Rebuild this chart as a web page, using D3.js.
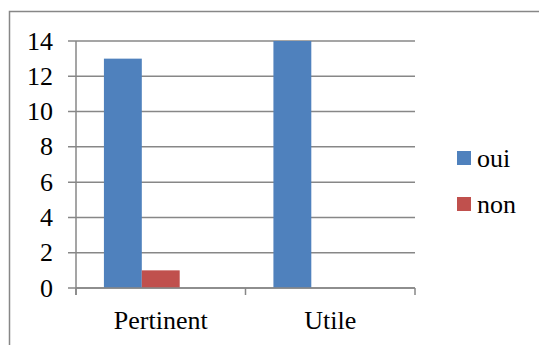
<!DOCTYPE html>
<html><head><meta charset="utf-8">
<script src="https://cdn.jsdelivr.net/npm/d3@7"></script>
<style>html,body{margin:0;padding:0;background:#fff;}svg{display:block;}</style>
</head><body>
<script>
const categories = ["Pertinent", "Utile"];
const seriesNames = ["oui", "non"];
const ouiValues = [13, 14];
const nonValues = [1, 0];
const yTicks = [0, 2, 4, 6, 8, 10, 12, 14];
const colors = ["#4F81BD", "#C0504D"];

(function () {
const W = 539, H = 345;
const svg = d3.select("body").append("svg").attr("width", W).attr("height", H)
  .attr("font-family", "Liberation Serif").style("font-family", "Liberation Serif");
function styleText(sel) {
  sel.attr("font-family", "Liberation Serif")
     .attr("font-size", 26)
     .style("font", "26px Liberation Serif")
     .attr("fill", "#000");
}

// outer frame
svg.append("rect").attr("x", 9.5).attr("y", 11.5).attr("width", 560).attr("height", 360)
  .attr("fill", "none").attr("stroke", "#878787").attr("stroke-width", 1.5);

const pl = 76, pr = 415, pt = 41, pb = 288;
const y = d3.scaleLinear().domain([0, 14]).range([pb, pt]);
const x0 = d3.scaleBand().domain(categories).range([pl, pr]).paddingInner(0).paddingOuter(0);
const bw = x0.bandwidth();
const barW = bw * 38 / 170;
const gap = bw * 28 / 170;
const x1 = d3.scaleBand().domain(seriesNames).range([gap, gap + 2 * barW]);

const gridColor = "#878787";
// gridlines
svg.append("g").selectAll("line").data(yTicks).join("line")
  .attr("x1", pl - 8).attr("x2", pr)
  .attr("y1", d => y(d)).attr("y2", d => y(d))
  .attr("stroke", gridColor).attr("stroke-width", 1.5);

// bars
const data = categories.map((c, i) => ({ cat: c, vals: [ouiValues[i], nonValues[i]] }));
const groups = svg.append("g").selectAll("g").data(data).join("g")
  .attr("transform", d => `translate(${x0(d.cat)},0)`);
groups.selectAll("rect").data(d => d.vals.map((v, j) => ({ s: seriesNames[j], v, j })))
  .join("rect")
  .attr("x", d => x1(d.s)).attr("width", x1.bandwidth())
  .attr("y", d => y(d.v)).attr("height", d => y(0) - y(d.v))
  .attr("fill", d => colors[d.j]);

// y axis line
svg.append("line").attr("x1", pl).attr("x2", pl).attr("y1", pt).attr("y2", pb + 7)
  .attr("stroke", gridColor).attr("stroke-width", 1.5);
// x axis
svg.append("line").attr("x1", pl).attr("x2", pr).attr("y1", pb).attr("y2", pb)
  .attr("stroke", gridColor).attr("stroke-width", 1.5);
const xt = [pl, ...categories.map(c => x0(c) + bw)];
svg.append("g").selectAll("line").data(xt).join("line")
  .attr("x1", d => d).attr("x2", d => d).attr("y1", pb).attr("y2", pb + 7)
  .attr("stroke", gridColor).attr("stroke-width", 1.5);

// y labels
const yl = svg.append("g").selectAll("text").data(yTicks).join("text")
  .attr("x", 53).attr("y", d => y(d)).attr("dy", "0.33em")
  .attr("text-anchor", "end").text(d => d);
styleText(yl);

// x labels
const xl = svg.append("g").selectAll("text").data(categories).join("text")
  .attr("x", d => x0(d) + bw / 2).attr("y", 329)
  .attr("text-anchor", "middle").text(d => d);
styleText(xl);

// legend
const lg = svg.append("g").selectAll("g").data(seriesNames).join("g")
  .attr("transform", (d, i) => `translate(457,${151 + i * 46})`);
lg.append("rect").attr("width", 14).attr("height", 14).attr("fill", (d, i) => colors[i]);
const lt = lg.append("text").attr("x", 20).attr("y", 15.5).text(d => d);
styleText(lt);
})();
</script>
</body></html>
